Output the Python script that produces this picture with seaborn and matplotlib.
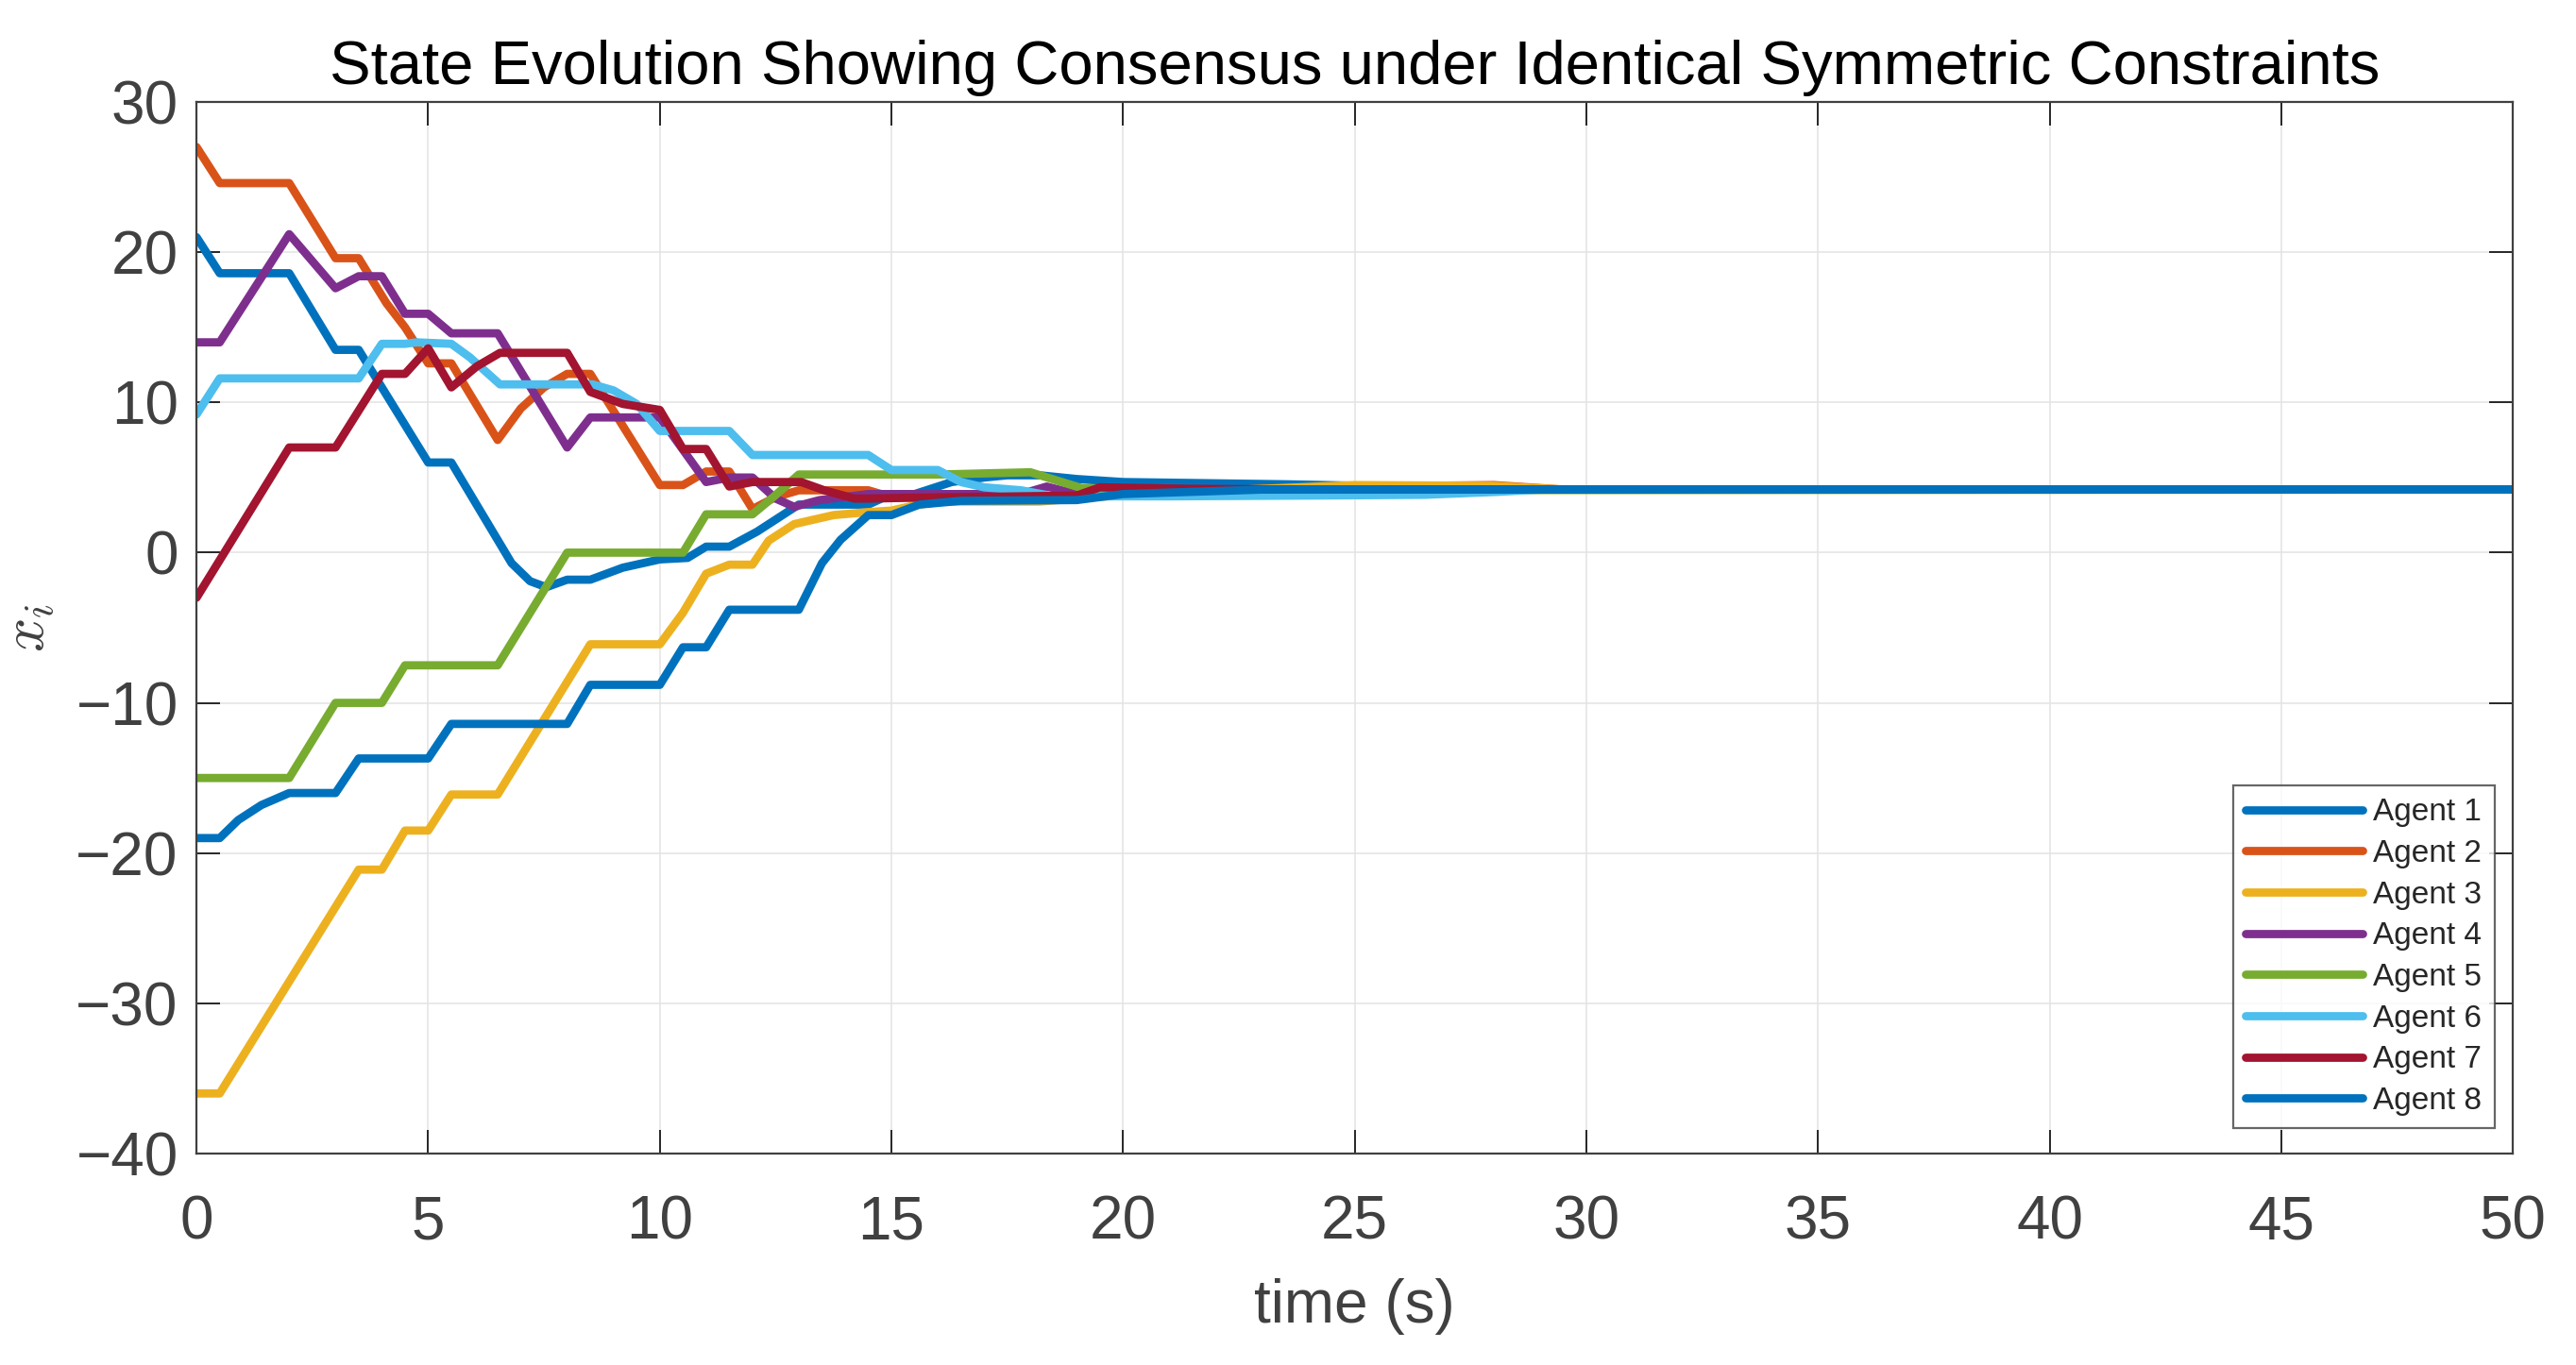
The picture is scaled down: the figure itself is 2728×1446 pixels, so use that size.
import numpy as np
import pandas as pd
import seaborn as sns
import matplotlib.pyplot as plt

# breakpoints, one pair of lists per agent
t1 = [0, 0.5, 2.0, 3.0, 3.5, 5.0, 5.5, 6.8, 7.2, 7.55, 8.0, 8.5, 9.2, 10.0, 10.6, 11.0, 11.5, 12.1, 13.0,
      14.5, 15.0, 15.5, 16.3, 17.0, 17.5, 18.2, 19.0, 20.0, 23.5, 26.0, 28.0, 50]
x1 = [21.0, 18.6, 18.6, 13.5, 13.5, 6.0, 6.0, -0.7, -1.9, -2.3, -1.8, -1.8, -1.0, -0.45, -0.35, 0.4, 0.4, 1.4, 3.2,
      3.2, 3.9, 3.9, 4.7, 5.0, 5.15, 5.15, 4.9, 4.7, 4.55, 4.4, 4.2, 4.2]

t2 = [0, 0.5, 2.0, 3.0, 3.5, 4.1, 4.5, 5.0, 5.5, 6.5, 7.0, 7.5, 8.0, 8.5, 10.0, 10.5, 11.0, 11.5, 12.0, 12.5,
      13.0, 14.5, 15.0, 19.0, 20.0, 25.0, 28.0, 29.5, 50]
x2 = [27.0, 24.6, 24.6, 19.6, 19.6, 16.6, 15.0, 12.6, 12.6, 7.5, 9.6, 11.0, 11.9, 11.9, 4.5, 4.5, 5.4, 5.4, 2.9, 3.7,
      4.15, 4.15, 3.7, 3.6, 4.0, 4.4, 4.5, 4.2, 4.2]

t3 = [0, 0.5, 3.5, 4.0, 4.5, 5.0, 5.5, 6.5, 8.5, 10.0, 10.5, 11.0, 11.5, 12.0, 12.35, 12.9, 13.75, 14.5, 15.0,
      15.5, 16.1, 18.2, 19.4, 21.0, 25.0, 28.0, 29.5, 50]
x3 = [-36.0, -36.0, -21.1, -21.1, -18.5, -18.5, -16.1, -16.1, -6.1, -6.1, -4.0, -1.4, -0.8, -0.8, 0.8, 1.9, 2.5, 2.7,
      2.8, 3.15, 3.4, 3.4, 3.7, 4.0, 4.5, 4.45, 4.2, 4.2]

t4 = [0, 0.5, 2.0, 3.0, 3.5, 4.0, 4.5, 5.0, 5.5, 6.5, 8.0, 8.5, 10.0, 11.0, 11.5, 12.0, 12.5, 12.9, 13.45, 14.5,
      17.8, 18.35, 19.0, 22.0, 26.0, 50]
x4 = [14.0, 14.0, 21.2, 17.6, 18.4, 18.4, 15.9, 15.9, 14.6, 14.6, 7.0, 9.0, 9.0, 4.7, 5.0, 5.0, 3.6, 3.05, 3.5, 3.9,
      3.9, 4.4, 3.9, 4.0, 4.2, 4.2]

t5 = [0, 2.0, 3.0, 4.0, 4.5, 6.5, 8.0, 10.5, 11.0, 12.0, 12.45, 13.0, 16.0, 18.0, 19.1, 20.3, 50]
x5 = [-15.0, -15.0, -10.0, -10.0, -7.5, -7.5, 0.0, 0.0, 2.55, 2.55, 3.7, 5.2, 5.2, 5.35, 4.3, 4.15, 4.2]

t6 = [0, 0.5, 3.5, 4.0, 4.5, 4.75, 5.5, 5.9, 6.55, 8.55, 9.0, 9.5, 10.0, 11.5, 12.0, 14.5, 15.0, 16.0, 16.5, 17.0,
      17.8, 18.5, 21.0, 24.0, 26.5, 28.1, 29.0, 50]
x6 = [9.2, 11.6, 11.6, 13.9, 13.9, 14.0, 13.9, 13.0, 11.2, 11.2, 10.8, 9.9, 8.1, 8.1, 6.5, 6.5, 5.5, 5.5, 4.7, 4.35,
      4.15, 3.75, 3.75, 3.8, 3.85, 4.05, 4.2, 4.2]

t7 = [0, 2.0, 3.0, 4.0, 4.5, 5.0, 5.5, 6.05, 6.55, 8.0, 8.5, 9.2, 10.0, 10.5, 11.0, 11.5, 12.0, 13.05, 13.55, 14.2,
      14.5, 15.4, 19.0, 19.5, 21.4, 24.0, 50]
x7 = [-3.0, 7.0, 7.0, 11.9, 11.9, 13.6, 11.0, 12.4, 13.3, 13.3, 10.7, 9.9, 9.5, 6.9, 6.9, 4.4, 4.7, 4.7, 4.15, 3.6,
      3.6, 3.65, 3.8, 4.35, 4.25, 4.2, 4.2]

t8 = [0, 0.5, 0.9, 1.4, 2.0, 3.0, 3.5, 5.0, 5.5, 8.0, 8.5, 10.0, 10.5, 11.0, 11.5, 13.0, 13.5, 13.9, 14.5, 15.0,
      15.6, 16.5, 19.0, 20.0, 23.0, 50]
x8 = [-19.0, -19.0, -17.8, -16.8, -16.0, -16.0, -13.7, -13.7, -11.4, -11.4, -8.8, -8.8, -6.3, -6.3, -3.8, -3.8, -0.7,
      0.85, 2.5, 2.5, 3.2, 3.45, 3.5, 3.9, 4.2, 4.2]

agents = ["Agent 1", "Agent 2", "Agent 3", "Agent 4", "Agent 5", "Agent 6", "Agent 7", "Agent 8"]
times = [t1, t2, t3, t4, t5, t6, t7, t8]
states = [x1, x2, x3, x4, x5, x6, x7, x8]
colors = ["#0072BD", "#D95319", "#EDB120", "#7E2F8E", "#77AC30", "#4DBEEE", "#A2142F", "#0072BD"]

rows = []
for name, tt, xx in zip(agents, times, states):
    for a, b in zip(tt, xx):
        rows.append({"agent": name, "t": a, "x": b})
df = pd.DataFrame(rows)

sns.set_style("ticks")
plt.rcParams["font.family"] = ["Liberation Sans", "DejaVu Sans"]
plt.rcParams["mathtext.fontset"] = "cm"
plt.rcParams["axes.unicode_minus"] = True

gray = "#404040"
lw = 6.3
fig = plt.figure(figsize=(27.28, 14.46), dpi=100)
ax = fig.add_axes([0.0763, 0.1549, 0.8992, 0.7704])

sns.lineplot(data=df, x="t", y="x", hue="agent", hue_order=agents, palette=colors,
             sort=False, estimator=None, linewidth=lw, ax=ax)

ax.set_xlim(0, 50)
ax.set_ylim(-40, 30)
ax.set_xticks(np.arange(0, 51, 5))
ax.set_yticks(np.arange(-40, 31, 10))
ax.grid(True, color="#e3e3e3", linewidth=1.1)
ax.set_axisbelow(True)
for s in ax.spines.values():
    s.set_visible(True)
    s.set_color(gray)
    s.set_linewidth(1.6)
ax.tick_params(direction="in", length=18, width=1.4, color="#262626", labelsize=46,
               labelcolor=gray, top=True, right=True)
ax.tick_params(axis="x", pad=31)
ax.tick_params(axis="y", pad=14)

ax.set_title("State Evolution Showing Consensus under Identical Symmetric Constraints",
             fontsize=47, color="black", pad=14)
ax.set_xlabel("time (s)", fontsize=46, color=gray, labelpad=21)
ax.set_ylabel(r"$x_i$", fontsize=46, color=gray, labelpad=14)

leg = ax.legend(loc="lower right", bbox_to_anchor=(0.992, 0.024), fontsize=24, frameon=True,
                fancybox=False, handlelength=3.7, handletextpad=0.35, labelspacing=0.38,
                borderpad=0.4, borderaxespad=0, title=None)
leg.get_frame().set_edgecolor(gray)
leg.get_frame().set_linewidth(1.6)
for line in leg.get_lines():
    line.set_linewidth(lw)

fig.savefig("out.png", dpi=100)
